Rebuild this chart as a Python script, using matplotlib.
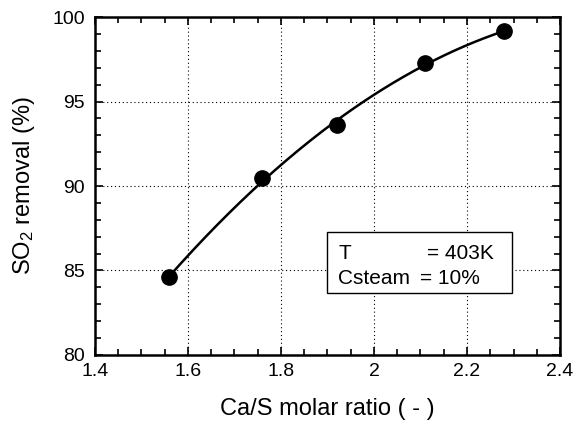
import matplotlib.pyplot as plt
import numpy as np
from matplotlib.patches import Rectangle
from matplotlib.ticker import MultipleLocator

plt.rcParams['font.family'] = ['Liberation Sans', 'DejaVu Sans']
plt.rcParams['mathtext.default'] = 'regular'

# measured points
ca_s_ratio = [1.56, 1.76, 1.92, 2.11, 2.28]
so2_removal = [84.6, 90.5, 93.6, 97.3, 99.15]

x_ticks = [1.4, 1.6, 1.8, 2.0, 2.2, 2.4]
x_ticklabels = ['1.4', '1.6', '1.8', '2', '2.2', '2.4']
y_ticks = [80, 85, 90, 95, 100]

fig = plt.figure(figsize=(5.75, 4.26), dpi=100)
ax = fig.add_axes([0.165, 0.1667, 0.809, 0.7933])

# smooth trend curve through the measurements
coef = np.polyfit(ca_s_ratio, so2_removal, 2)
xs = np.linspace(ca_s_ratio[0], ca_s_ratio[-1], 200)
ax.plot(xs, np.polyval(coef, xs), color='black', lw=1.8, zorder=3)
ax.plot(ca_s_ratio, so2_removal, 'o', color='black', ms=11, zorder=4)

ax.set_xlim(1.4, 2.4)
ax.set_ylim(80, 100)
ax.set_xticks(x_ticks)
ax.set_xticklabels(x_ticklabels)
ax.set_yticks(y_ticks)
ax.xaxis.set_minor_locator(MultipleLocator(0.05))
ax.yaxis.set_minor_locator(MultipleLocator(1))

ax.grid(True, which='major', linestyle=(0, (1, 2.5)), color='black', lw=0.8)
ax.tick_params(which='both', direction='in', top=True, right=True,
               width=1.2, labelsize=14)
ax.tick_params(axis='x', pad=6)
ax.tick_params(axis='y', pad=7)
ax.tick_params(which='major', length=6)
ax.tick_params(which='minor', length=4)
for sp in ax.spines.values():
    sp.set_linewidth(1.8)

ax.set_xlabel('Ca/S molar ratio ( - )', fontsize=17, labelpad=13)
ax.set_ylabel('SO$_2$ removal (%)', fontsize=17, labelpad=11)

# condition box
ax.add_patch(Rectangle((0.498, 0.183), 0.398, 0.182, transform=ax.transAxes,
                       fill=True, facecolor='white', edgecolor='black',
                       lw=1.0, zorder=5))
ax.text(0.523, 0.301, 'T', transform=ax.transAxes, fontsize=15,
        va='center', zorder=6)
ax.text(0.713, 0.301, '= 403K', transform=ax.transAxes, fontsize=15,
        va='center', zorder=6)
ax.text(0.523, 0.227, 'Csteam', transform=ax.transAxes, fontsize=15,
        va='center', zorder=6)
ax.text(0.700, 0.227, '= 10%', transform=ax.transAxes, fontsize=15,
        va='center', zorder=6)

fig.savefig('out.png', dpi=100)
